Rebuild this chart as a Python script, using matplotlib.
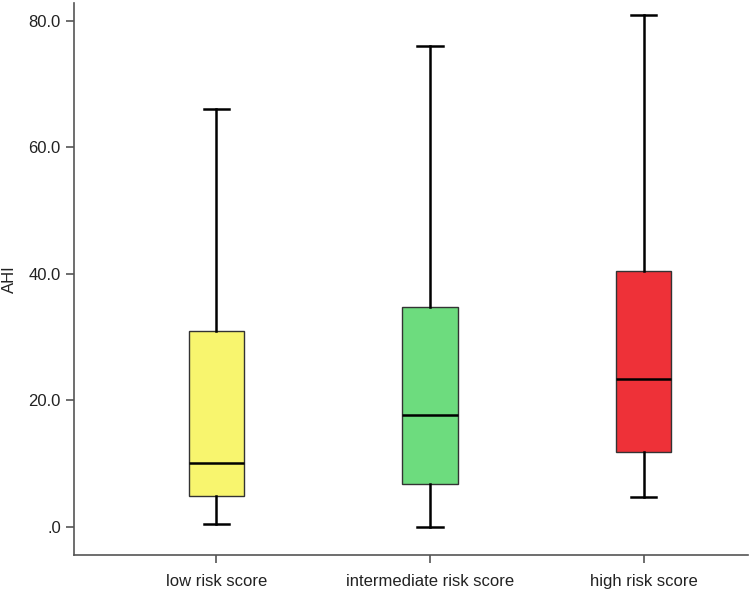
import matplotlib
matplotlib.use("Agg")
import matplotlib.pyplot as plt

plt.rcParams['font.family'] = ['Liberation Sans', 'DejaVu Sans']

groups = ['low risk score', 'intermediate risk score', 'high risk score']
whis_low = [0.5, 0.0, 4.7]
q1 = [4.9, 6.8, 11.9]
median = [10.1, 17.7, 23.4]
q3 = [31.0, 34.8, 40.5]
whis_high = [66.1, 76.0, 80.8]
colors = ['#f8f56e', '#6ddc7e', '#ee3138']

yticks = [0, 20, 40, 60, 80]
ytick_labels = ['.0', '20.0', '40.0', '60.0', '80.0']


def main():
    fig = plt.figure(figsize=(7.5, 5.9), dpi=100)
    ax = fig.add_axes([0.0987, 0.0593, 0.898, 0.936])

    stats = []
    for i in range(len(groups)):
        stats.append({'whislo': whis_low[i], 'q1': q1[i], 'med': median[i],
                      'q3': q3[i], 'whishi': whis_high[i], 'fliers': []})

    bp = ax.bxp(stats, positions=[1, 2, 3], widths=0.26, patch_artist=True,
                showfliers=False, capwidths=0.12,
                boxprops=dict(edgecolor='#333333', linewidth=1.0),
                medianprops=dict(color='black', linewidth=1.8),
                whiskerprops=dict(color='black', linewidth=1.8),
                capprops=dict(color='black', linewidth=1.8))
    for patch, c in zip(bp['boxes'], colors):
        patch.set_facecolor(c)

    ax.set_xlim(0.334, 3.486)
    ax.set_ylim(-4.4, 82.8)
    ax.set_xticks([1, 2, 3])
    ax.set_xticklabels(groups)
    ax.set_yticks(yticks)
    ax.set_yticklabels(ytick_labels)
    ax.set_ylabel('AHI', fontsize=12, color='#222222', labelpad=8)

    for s in ['top', 'right']:
        ax.spines[s].set_visible(False)
    for s in ['left', 'bottom']:
        ax.spines[s].set_color('#555555')
        ax.spines[s].set_linewidth(1.2)
    ax.tick_params(axis='both', colors='#555555', labelcolor='#222222',
                   labelsize=12, length=6, width=1.2)
    ax.tick_params(axis='x', pad=8)

    fig.savefig('out.png', dpi=100)


if __name__ == '__main__':
    main()
